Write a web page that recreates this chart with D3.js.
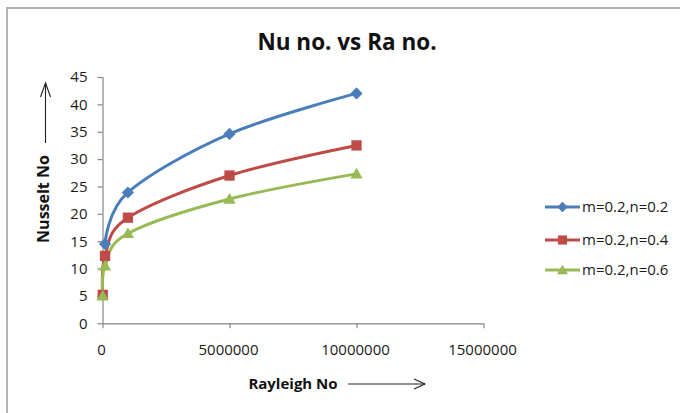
<!DOCTYPE html>
<html>
<head>
<meta charset="utf-8">
<script src="https://cdn.jsdelivr.net/npm/d3@7/dist/d3.min.js"></script>
<style>
  html, body { margin: 0; padding: 0; background: #fff; }
  svg { display: block; font-family: "Open Sans", Lato, sans-serif; }
</style>
</head>
<body>
<svg id="chart" width="680" height="413"></svg>
<script>
// Rayleigh numbers sampled for each case
const raBlue  = [100000, 1000000, 5000000, 10000000];
const raRed   = [10000, 100000, 1000000, 5000000, 10000000];
const raGreen = [10000, 100000, 1000000, 5000000, 10000000];

// Nusselt numbers
const nuBlue  = [14.5, 23.9, 34.6, 42.0];
const nuRed   = [5.2, 12.3, 19.3, 27.0, 32.5];
const nuGreen = [5.0, 10.5, 16.4, 22.7, 27.3];

const seriesNames = ["m=0.2,n=0.2", "m=0.2,n=0.4", "m=0.2,n=0.6"];
const seriesColors = ["#4a7ebb", "#be4b48", "#98b954"];
const seriesMarkers = ["diamond", "square", "triangle"];

const xTicks = [0, 5000000, 10000000, 15000000];
const yTicks = [0, 5, 10, 15, 20, 25, 30, 35, 40, 45];

const titleText = "Nu no. vs Ra no.";
const xTitle = "Rayleigh No";
const yTitle = "Nusselt No";

const series = [
  { name: seriesNames[0], color: seriesColors[0], marker: seriesMarkers[0], ra: raBlue,  nu: nuBlue },
  { name: seriesNames[1], color: seriesColors[1], marker: seriesMarkers[1], ra: raRed,   nu: nuRed },
  { name: seriesNames[2], color: seriesColors[2], marker: seriesMarkers[2], ra: raGreen, nu: nuGreen }
];

const svg = d3.select("#chart");

// outer chart frame
svg.append("rect")
  .attr("x", 7).attr("y", 8).attr("width", 700).attr("height", 430)
  .attr("fill", "#fff").attr("stroke", "#b3b3b3").attr("stroke-width", 2);

const x = d3.scaleLinear().domain([0, 15000000]).range([102.5, 483.5]);
const y = d3.scaleLinear().domain([0, 45]).range([323.3, 77]);

const axisColor = "#868686";
const tickFont = 15;

// y axis
const yAxis = svg.append("g")
  .attr("transform", `translate(${x(0)},0)`)
  .call(d3.axisLeft(y).tickValues(yTicks).tickSize(5).tickPadding(10).tickFormat(d3.format("d")));
// x axis
const xAxis = svg.append("g")
  .attr("transform", `translate(0,${y(0)})`)
  .call(d3.axisBottom(x).tickValues(xTicks).tickSize(5).tickPadding(16).tickFormat(d3.format("d")));

[yAxis, xAxis].forEach(g => {
  g.select(".domain").attr("stroke", axisColor).attr("stroke-width", 1.2);
  g.selectAll(".tick line").attr("stroke", axisColor).attr("stroke-width", 1.2);
  g.selectAll(".tick text").attr("fill", "#1a1a1a")
    .style("font-size", tickFont + "px").style("font-family", "'Open Sans', sans-serif");
});
xAxis.select(".domain").attr("d", `M${x(0)},0.5H${x(15000000)}`);
yAxis.select(".domain").attr("d", `M0.5,${y(0)}V${y(45)}`);
xAxis.selectAll(".tick text").attr("dx", -1.5);

// title
svg.append("text")
  .attr("x", 347).attr("y", 50)
  .attr("text-anchor", "middle")
  .style("font-size", "22.5px").style("font-weight", "bold")
  .attr("fill", "#111")
  .text(titleText);

// axis titles with arrows
svg.append("text")
  .attr("x", 293).attr("y", 389)
  .attr("text-anchor", "middle")
  .style("font-size", "15px").style("font-weight", "bold")
  .attr("fill", "#111")
  .text(xTitle);
svg.append("line")
  .attr("x1", 348).attr("y1", 384).attr("x2", 425).attr("y2", 384)
  .attr("stroke", "#222").attr("stroke-width", 1.1);
svg.append("path")
  .attr("d", "M414,379 L425,384 L414,389")
  .attr("fill", "none").attr("stroke", "#222").attr("stroke-width", 1.1);

svg.append("text")
  .attr("transform", "translate(49,199) rotate(-90)")
  .attr("text-anchor", "middle")
  .style("font-size", "16px").style("font-weight", "bold")
  .attr("fill", "#111")
  .text(yTitle);
svg.append("line")
  .attr("x1", 45.5).attr("y1", 143).attr("x2", 45.5).attr("y2", 83)
  .attr("stroke", "#222").attr("stroke-width", 1.1);
svg.append("path")
  .attr("d", "M40.5,97 L45.5,83 L50.5,97")
  .attr("fill", "none").attr("stroke", "#222").attr("stroke-width", 1.1);

// marker drawing
function markerPath(type, size) {
  const sym = { diamond: d3.symbolDiamond2, square: d3.symbolSquare2, triangle: d3.symbolTriangle2 }[type];
  return d3.symbol().type(sym).size(size)();
}
const markerSize = { diamond: 95, square: 135, triangle: 110 };
const legendMarkerSize = { diamond: 70, square: 105, triangle: 85 };

const line = d3.line()
  .x(d => x(d[0])).y(d => y(d[1]))
  .curve(d3.curveCardinal.tension(0));

series.forEach(s => {
  const pts = s.ra.map((r, i) => [r, s.nu[i]]);
  svg.append("path")
    .datum(pts)
    .attr("d", line)
    .attr("fill", "none")
    .attr("stroke", s.color)
    .attr("stroke-width", 3)
    .attr("stroke-linejoin", "round");
});
series.forEach(s => {
  const pts = s.ra.map((r, i) => [r, s.nu[i]]);
  svg.selectAll(null).data(pts).enter().append("path")
    .attr("transform", d => `translate(${x(d[0])},${y(d[1]) + (s.marker === "triangle" ? 1 : 0)})`)
    .attr("d", markerPath(s.marker, markerSize[s.marker]))
    .attr("fill", s.color)
    .attr("stroke", "none");
});

// legend
const legendY = [207, 240, 270];
series.forEach((s, i) => {
  const g = svg.append("g").attr("transform", `translate(0,${legendY[i]})`);
  g.append("line").attr("x1", 545).attr("x2", 580).attr("y1", 0).attr("y2", 0)
    .attr("stroke", s.color).attr("stroke-width", 3);
  g.append("path")
    .attr("transform", `translate(562.5,${s.marker === "triangle" ? 1 : 0})`)
    .attr("d", markerPath(s.marker, legendMarkerSize[s.marker]))
    .attr("fill", s.color);
  g.append("text")
    .attr("x", 582).attr("y", 5)
    .style("font-size", "15px")
    .attr("fill", "#1a1a1a")
    .text(s.name);
});
</script>
</body>
</html>
